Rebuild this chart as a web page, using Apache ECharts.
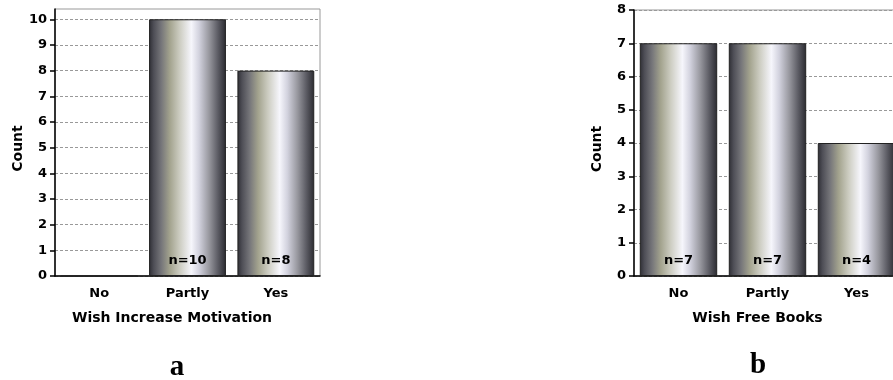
<!DOCTYPE html>
<html>
<head>
<meta charset="utf-8">
<script src="https://cdn.jsdelivr.net/npm/echarts@6/dist/echarts.min.js"></script>
<style>html,body{margin:0;padding:0;background:#fff}#c{width:893px;height:380px}</style>
</head>
<body>
<div id="c"></div>
<script>
const categories = ['No', 'Partly', 'Yes'];
const motivationCounts = [0, 10, 8];
const freeBooksCounts = [7, 7, 4];
const motivationTicks = [0, 1, 2, 3, 4, 5, 6, 7, 8, 9, 10];
const freeBooksTicks = [0, 1, 2, 3, 4, 5, 6, 7, 8];
const xTitleA = 'Wish Increase Motivation';
const xTitleB = 'Wish Free Books';
const yTitle = 'Count';
const panelLabels = ['a', 'b'];

const FONT = '"DejaVu Sans", sans-serif';
const barGradient = {
  type: 'linear', x: 0, y: 0, x2: 1, y2: 0,
  colorStops: [
    { offset: 0, color: '#2e2e34' },
    { offset: 0.06, color: '#4e4e56' },
    { offset: 0.16, color: '#76767a' },
    { offset: 0.27, color: '#a3a38e' },
    { offset: 0.4, color: '#cdcdc2' },
    { offset: 0.55, color: '#f6f6fc' },
    { offset: 0.65, color: '#d2d2de' },
    { offset: 0.78, color: '#98989f' },
    { offset: 0.9, color: '#5a5a62' },
    { offset: 1, color: '#2a2a30' }
  ]
};

function xAxisCfg(gridIndex, name, padRight) {
  return {
    type: 'category', gridIndex, data: categories,
    axisLine: { lineStyle: { color: '#000', width: 1.5 } },
    axisTick: { alignWithLabel: true, length: 4, lineStyle: { color: '#000', width: 1.5 } },
    axisLabel: { margin: 11, fontFamily: FONT, fontWeight: 'bold', fontSize: 13, color: '#000' },
    name, nameLocation: 'middle', nameGap: 35,
    nameTextStyle: { fontFamily: FONT, fontWeight: 'bold', fontSize: 14, color: '#000', padding: [0, padRight, 0, 0] }
  };
}
function yAxisCfg(gridIndex, max, ticks) {
  return {
    type: 'value', gridIndex, min: 0, max, interval: 1,
    axisLine: { show: true, lineStyle: { color: '#000', width: 1.5 } },
    axisTick: { show: true, length: 5, customValues: ticks, lineStyle: { color: '#000', width: 1.5 } },
    axisLabel: { margin: 8, customValues: ticks, fontFamily: FONT, fontWeight: 'bold', fontSize: 13, color: '#000',
      formatter: v => Number.isInteger(v) ? String(v) : '' },
    splitLine: { show: true, lineStyle: { color: '#999', type: [3, 2], width: 1 } },
    name: yTitle, nameLocation: 'middle', nameRotate: 90, nameGap: 30,
    nameTextStyle: { fontFamily: FONT, fontWeight: 'bold', fontSize: 14, color: '#000', padding: [0, 12, 0, 0] }
  };
}
function seriesCfg(idx, data) {
  return {
    type: 'bar', xAxisIndex: idx, yAxisIndex: idx, data,
    barCategoryGap: '13%',
    itemStyle: { color: barGradient, borderColor: '#222', borderWidth: 1 },
    label: { show: true, position: 'insideBottom', distance: 9,
      fontFamily: FONT, fontWeight: 'bold', fontSize: 13, color: '#000',
      formatter: p => p.value > 0 ? 'n=' + p.value : '' },
    silent: true, animation: false
  };
}

const chart = echarts.init(document.getElementById('c'), null, { renderer: 'canvas' });
chart.setOption({
  animation: false,
  backgroundColor: '#fff',
  grid: [
    { left: 55, top: 9, width: 265, height: 267, outerBoundsMode: 'none', containLabel: false, show: true, borderColor: '#999', borderWidth: 1, backgroundColor: 'transparent' },
    { left: 634, top: 10, width: 267, height: 266, outerBoundsMode: 'none', containLabel: false, show: true, borderColor: '#999', borderWidth: 1, backgroundColor: 'transparent' }
  ],
  xAxis: [xAxisCfg(0, xTitleA, 31), xAxisCfg(1, xTitleB, 20)],
  yAxis: [yAxisCfg(0, 10.4, motivationTicks), yAxisCfg(1, 8, freeBooksTicks)],
  series: [seriesCfg(0, motivationCounts), seriesCfg(1, freeBooksCounts)],
  graphic: [
    { type: 'text', x: 177, y: 368, style: { text: panelLabels[0], font: 'bold 29px "Liberation Serif", serif', fill: '#000', textAlign: 'center', textVerticalAlign: 'middle' } },
    { type: 'text', x: 758, y: 366, style: { text: panelLabels[1], font: 'bold 29px "Liberation Serif", serif', fill: '#000', textAlign: 'center', textVerticalAlign: 'middle' } }
  ]
});
</script>
</body>
</html>
